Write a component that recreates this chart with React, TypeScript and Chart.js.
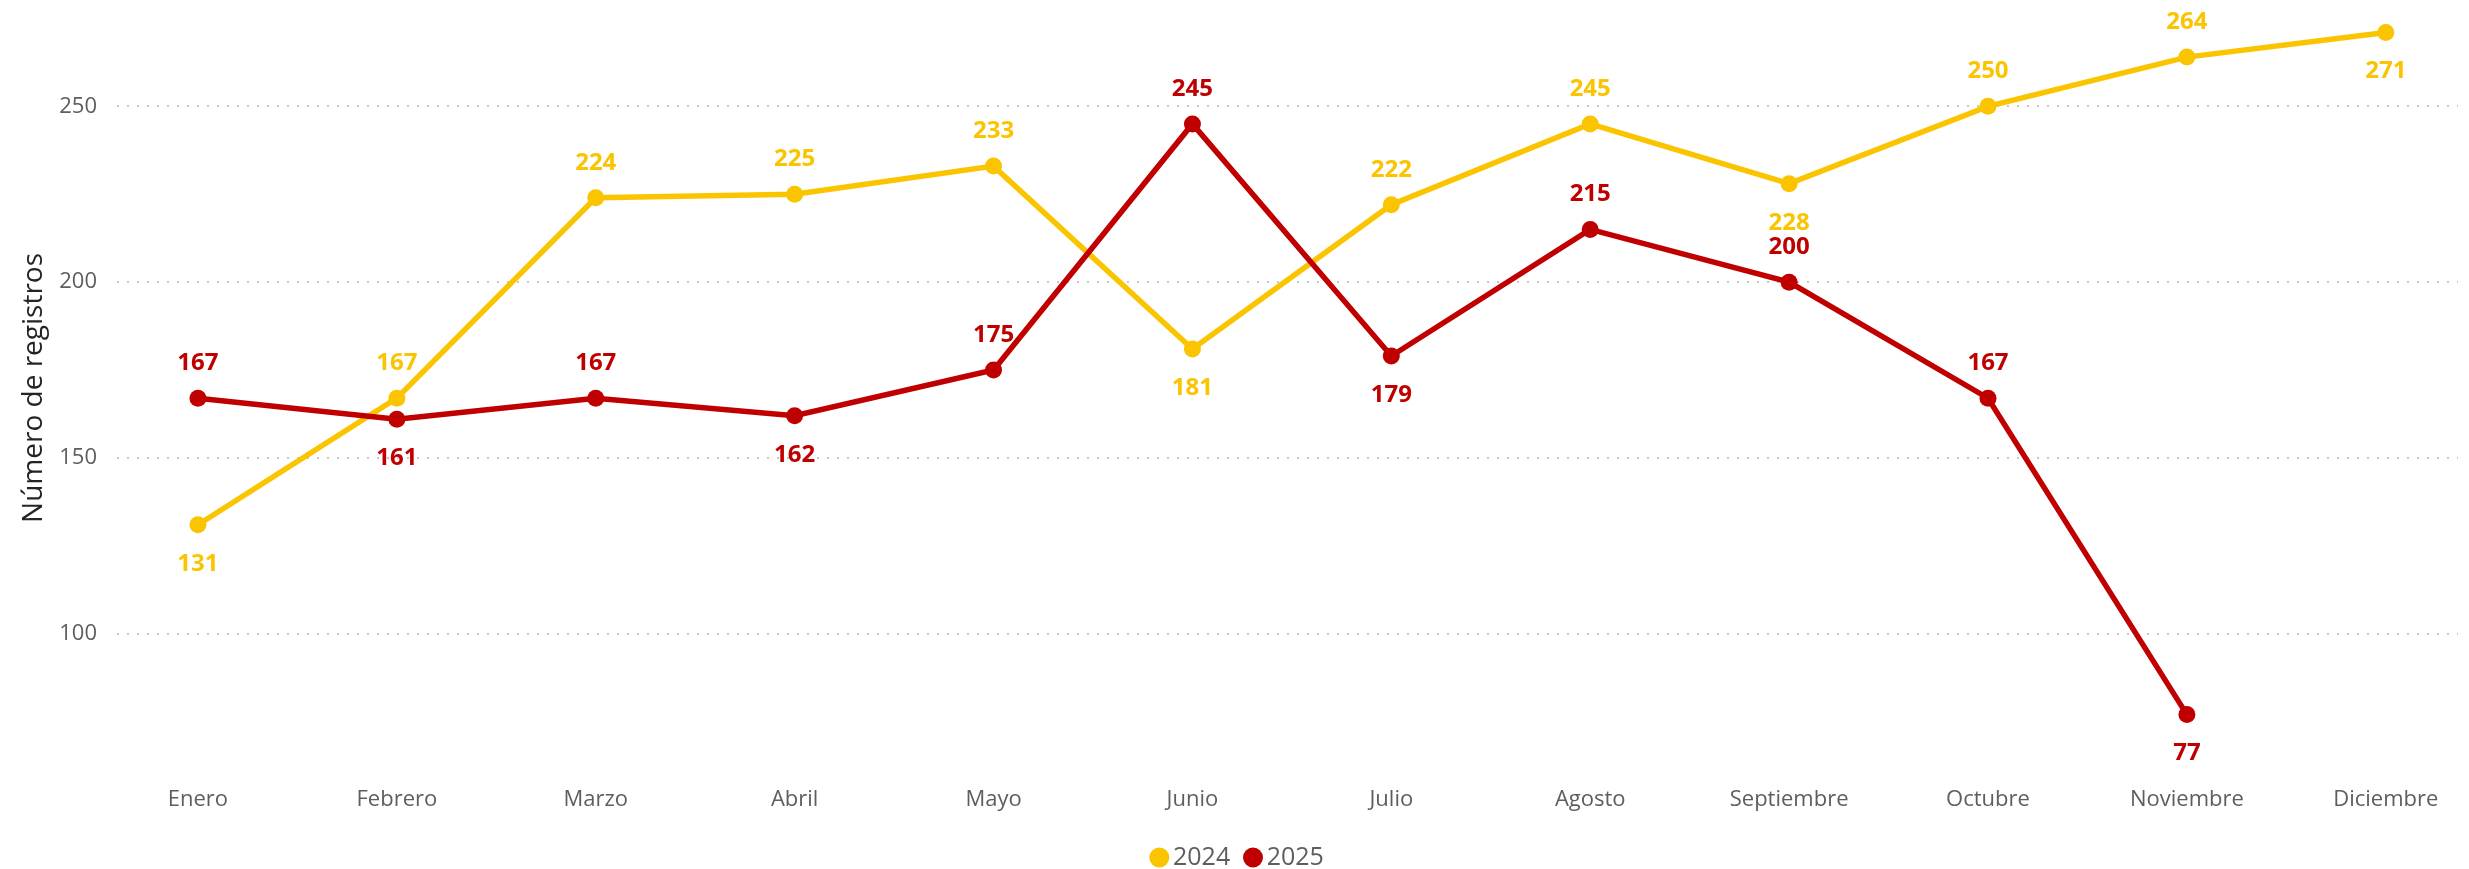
import React, { useEffect, useRef } from 'react';
import { Chart, registerables } from 'chart.js';

Chart.register(...registerables);

// ---- Data ----
const months = ['Enero', 'Febrero', 'Marzo', 'Abril', 'Mayo', 'Junio', 'Julio', 'Agosto', 'Septiembre', 'Octubre', 'Noviembre', 'Diciembre'];
const series2024 = [131, 167, 224, 225, 233, 181, 222, 245, 228, 250, 264, 271];
const series2025 = [167, 161, 167, 162, 175, 245, 179, 215, 200, 167, 77, null];
const labelPos2024 = ['below', 'above', 'above', 'above', 'above', 'below', 'above', 'above', 'below', 'above', 'above', 'below'];
const labelPos2025 = ['above', 'below', 'above', 'below', 'above', 'above', 'below', 'above', 'above', 'above', 'below', 'above'];
const seriesNames = ['2024', '2025'];
const yTitle = 'Número de registros';

const YELLOW = '#FAC400';
const RED = '#C00000';
const FONT = "'Open Sans', 'Segoe UI', sans-serif";
const GREY_TEXT = '#605E5C';

const toPoints = (arr: (number | null)[]) => arr.map((v, i) => ({ x: i, y: v }));

const dataLabelPlugin = {
  id: 'pbiDataLabels',
  afterDatasetsDraw(chart: any) {
    const ctx = chart.ctx;
    chart.data.datasets.forEach((ds: any, di: number) => {
      const meta = chart.getDatasetMeta(di);
      if (meta.hidden) return;
      meta.data.forEach((pt: any, i: number) => {
        const v = ds.data[i]?.y;
        if (v == null) return;
        const dy = ds.labelPositions[i] === 'above' ? -35 : 39;
        ctx.save();
        ctx.font = `bold 24px ${FONT}`;
        ctx.fillStyle = ds.borderColor;
        ctx.textAlign = 'center';
        ctx.textBaseline = 'middle';
        ctx.fillText(String(v), pt.x, pt.y + dy);
        ctx.restore();
      });
    });
  },
};

const axisTitlePlugin = {
  id: 'yAxisTitle',
  afterDraw(chart: any) {
    const ctx = chart.ctx;
    const area = chart.chartArea;
    ctx.save();
    ctx.translate(34, (area.top + area.bottom) / 2 - 16);
    ctx.rotate(-Math.PI / 2);
    ctx.font = `28px ${FONT}`;
    ctx.fillStyle = '#252423';
    ctx.textAlign = 'center';
    ctx.textBaseline = 'middle';
    ctx.fillText(yTitle, 0, 0);
    ctx.restore();
  },
};

export default function App() {
  const canvasRef = useRef<HTMLCanvasElement | null>(null);

  useEffect(() => {
    document.body.style.margin = '0';
    document.body.style.overflow = 'hidden';
    const canvas = canvasRef.current;
    if (!canvas) return;
    const chart = new Chart(canvas, {
      type: 'line',
      data: {
        datasets: [
          {
            label: seriesNames[0],
            data: toPoints(series2024),
            borderColor: YELLOW,
            backgroundColor: YELLOW,
            pointBackgroundColor: YELLOW,
            pointBorderColor: YELLOW,
            pointBorderWidth: 0,
            pointRadius: 8.5,
            pointHoverRadius: 8.5,
            borderWidth: 5.5,
            tension: 0,
            order: 1,
            clip: false,
            labelPositions: labelPos2024,
          } as any,
          {
            label: seriesNames[1],
            data: toPoints(series2025),
            borderColor: RED,
            backgroundColor: RED,
            pointBackgroundColor: RED,
            pointBorderColor: RED,
            pointBorderWidth: 0,
            pointRadius: 8.5,
            pointHoverRadius: 8.5,
            borderWidth: 5.5,
            tension: 0,
            order: 0,
            clip: false,
            labelPositions: labelPos2025,
          } as any,
        ],
      },
      options: {
        responsive: false,
        animation: false,
        devicePixelRatio: 1,
        layout: { padding: { left: 24, right: 11, top: 10, bottom: -11 } },
        plugins: {
          tooltip: { enabled: false },
          legend: {
            position: 'bottom',
            labels: {
              usePointStyle: true,
              pointStyle: 'circle',
              boxWidth: 2.4,
              boxHeight: 14.14,
              padding: 21.6,
              color: GREY_TEXT,
              font: { family: FONT, size: 25 },
              generateLabels: (c: any) =>
                Chart.defaults.plugins.legend.labels
                  .generateLabels(c)
                  .map((l: any) => ({ ...l, lineWidth: 0 }))
                  .sort((a: any, b: any) => a.datasetIndex - b.datasetIndex),
            },
          },
        },
        scales: {
          x: {
            type: 'linear',
            min: -0.407,
            max: 11.363,
            grid: { display: false },
            border: { display: false },
            afterBuildTicks: (s: any) => {
              s.ticks = months.map((_, i) => ({ value: i }));
            },
            afterFit: (s: any) => {
              s.height = 48.7;
            },
            ticks: {
              autoSkip: false,
              maxRotation: 0,
              padding: 4,
              color: GREY_TEXT,
              font: { family: FONT, size: 22 },
              callback: (v: any) => months[v] ?? '',
            },
          },
          y: {
            min: 59.91,
            max: 270.8,
            afterFit: (s: any) => {
              s.width = 93;
            },
            grid: { color: '#C8C6C4', lineWidth: 2, drawTicks: false },
            border: { display: false, dash: [2, 8] },
            ticks: {
              stepSize: 50,
              includeBounds: false,
              padding: 20,
              color: GREY_TEXT,
              font: { family: FONT, size: 22 },
            },
          },
        },
      } as any,
      plugins: [dataLabelPlugin, axisTitlePlugin],
    });
    return () => chart.destroy();
  }, []);

  return (
    <div style={{ width: 2469, height: 869 }}>
      <canvas ref={canvasRef} width={2469} height={869} style={{ display: 'block' }} />
    </div>
  );
}
